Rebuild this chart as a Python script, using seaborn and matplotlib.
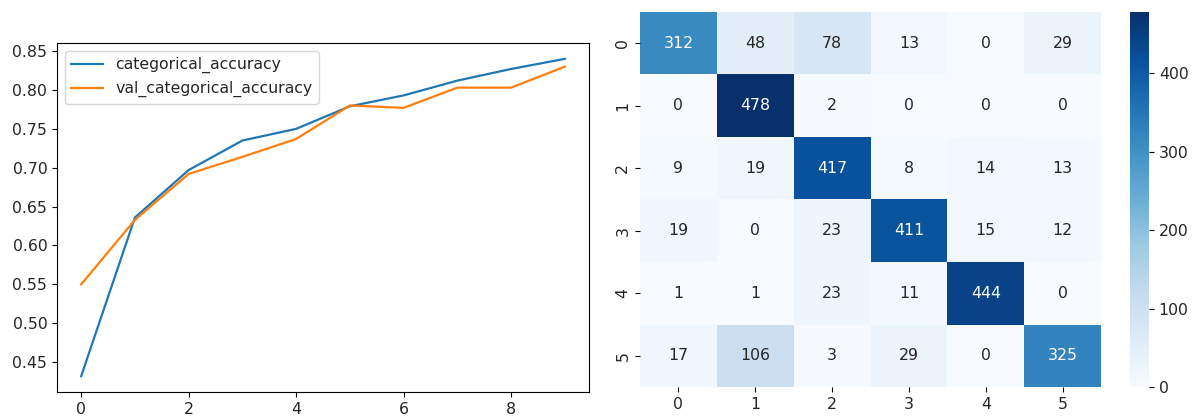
import numpy as np
import pandas as pd
import matplotlib
matplotlib.use("Agg")
import matplotlib.pyplot as plt
import seaborn as sns

# Training history per epoch
epochs = list(range(10))
categorical_accuracy = [0.432, 0.636, 0.697, 0.735, 0.750, 0.779, 0.793, 0.812, 0.827, 0.840]
val_categorical_accuracy = [0.550, 0.633, 0.692, 0.714, 0.737, 0.780, 0.777, 0.803, 0.803, 0.830]

# Confusion matrix (rows: true class, cols: predicted class)
class_labels = ["0", "1", "2", "3", "4", "5"]
confusion = [
    [312, 48, 78, 13, 0, 29],
    [0, 478, 2, 0, 0, 0],
    [9, 19, 417, 8, 14, 13],
    [19, 0, 23, 411, 15, 12],
    [1, 1, 23, 11, 444, 0],
    [17, 106, 3, 29, 0, 325],
]

plt.rcParams["font.size"] = 11.3
plt.rcParams["text.color"] = "#262626"
plt.rcParams["xtick.labelcolor"] = "#262626"
plt.rcParams["ytick.labelcolor"] = "#262626"

W, H = 1198, 419
fig = plt.figure(figsize=(W / 100, H / 100), dpi=100)

ax_hist = fig.add_axes([57 / W, (H - 392) / H, 532 / W, 349 / H])
ax_cm = fig.add_axes([640 / W, (H - 387) / H, 461 / W, 375 / H])
ax_cb = fig.add_axes([1130 / W, (H - 387) / H, 19 / W, 375 / H])

# Accuracy curves
sns.lineplot(x=epochs, y=categorical_accuracy, ax=ax_hist, color="#1f77b4",
             label="categorical_accuracy", linewidth=1.6)
sns.lineplot(x=epochs, y=val_categorical_accuracy, ax=ax_hist, color="#ff7f0e",
             label="val_categorical_accuracy", linewidth=1.6)
ax_hist.set_xticks([0, 2, 4, 6, 8])
ax_hist.set_yticks(np.arange(0.45, 0.851, 0.05))
ax_hist.yaxis.set_major_formatter(matplotlib.ticker.FormatStrFormatter("%.2f"))
ax_hist.legend(loc="upper left")

# Confusion matrix heatmap
cm_df = pd.DataFrame(confusion, index=class_labels, columns=class_labels)
sns.heatmap(cm_df, annot=True, fmt="d", cmap="Blues", ax=ax_cm, cbar_ax=ax_cb,
            vmin=0)
ax_cb.set_yticks([0, 100, 200, 300, 400])

fig.savefig("out.png", dpi=100)
